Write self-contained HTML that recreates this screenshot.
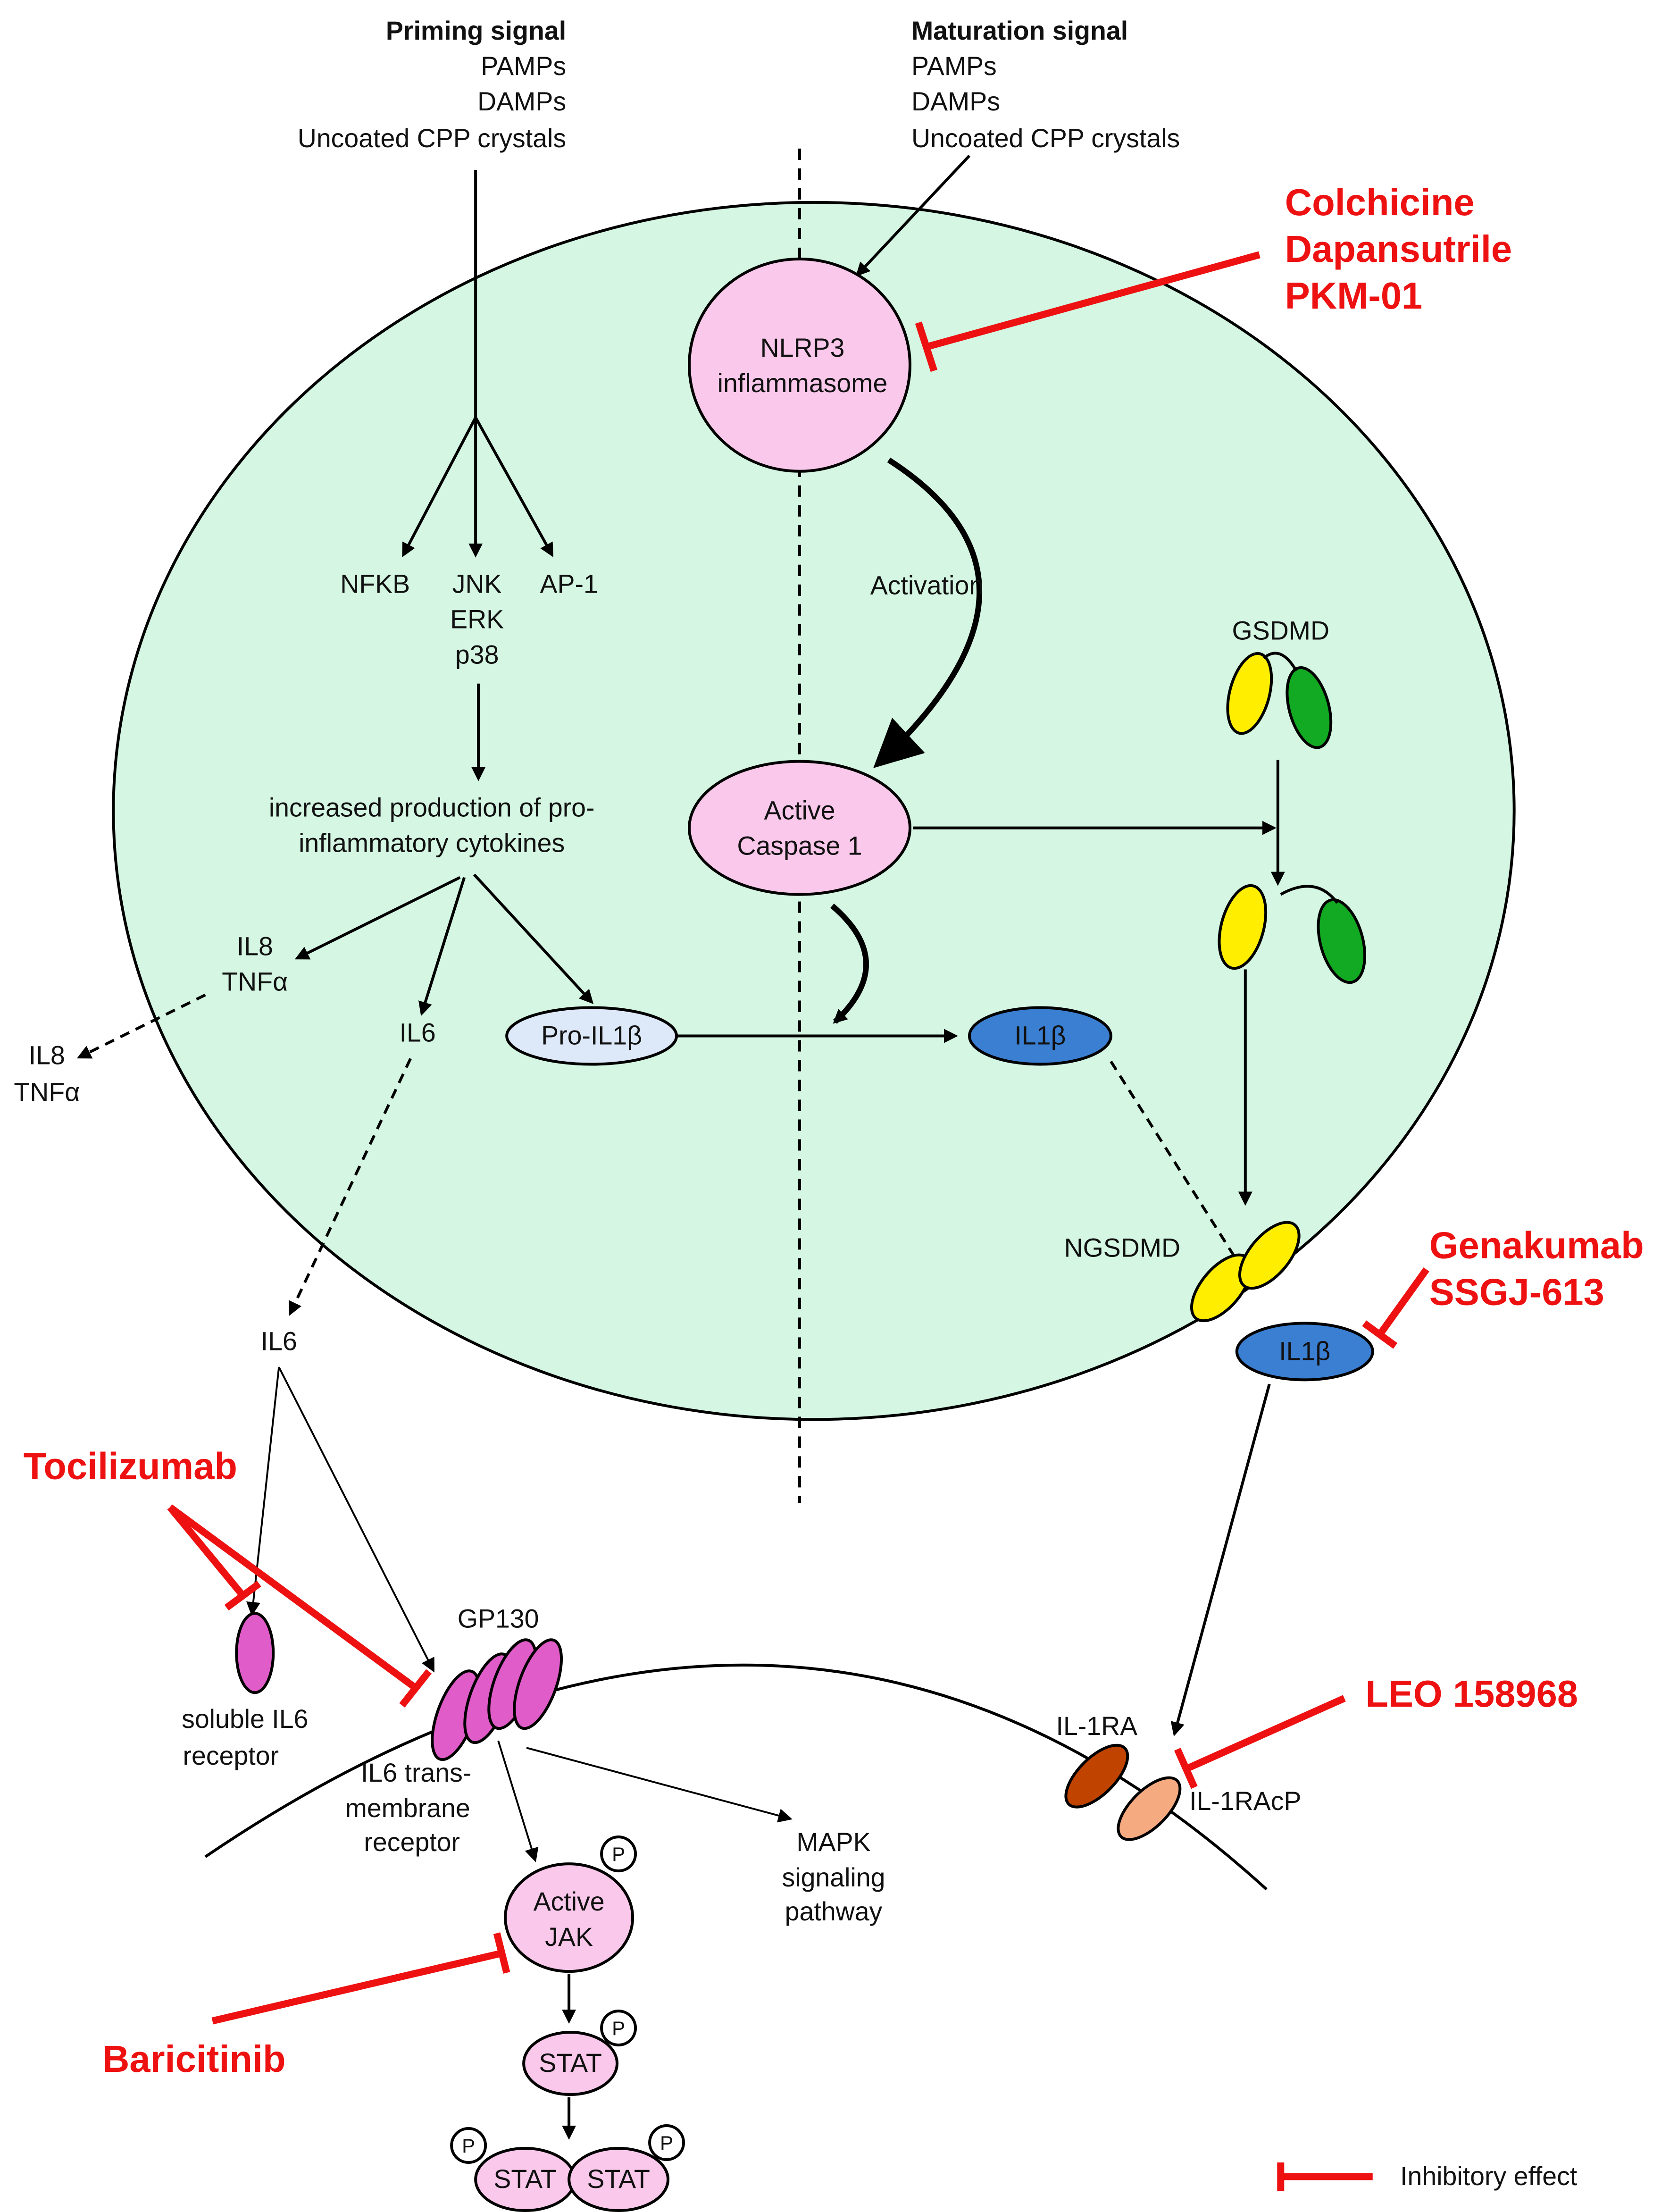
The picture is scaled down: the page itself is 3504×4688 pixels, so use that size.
<!DOCTYPE html>
<html><head><meta charset="utf-8">
<style>
html,body{margin:0;padding:0;background:#fff;}
svg{display:block;}
text{font-family:"Liberation Sans",sans-serif;font-size:18.5px;fill:#111;}
.b{font-weight:bold;}
.r{fill:#ee1111;font-weight:bold;font-size:26.5px;}
</style></head><body>
<svg width="3504" height="4688" viewBox="0 0 1168 1563" xmlns="http://www.w3.org/2000/svg">
<defs>
<marker id="a" markerWidth="10" markerHeight="10" refX="8" refY="5" orient="auto" markerUnits="userSpaceOnUse"><path d="M0,0 L10,5 L0,10 z" fill="#000"/></marker>
<marker id="A" markerWidth="34" markerHeight="34" refX="30" refY="17" orient="auto" markerUnits="userSpaceOnUse"><path d="M0,0 L34,17 L0,34 z" fill="#000"/></marker>
</defs>
<ellipse cx="575" cy="573" rx="495" ry="430" fill="#d4f6e2" stroke="#000" stroke-width="2"/>
<line x1="565" y1="105" x2="565" y2="1062" stroke="#000" stroke-width="2" stroke-dasharray="8,6"/>

<text x="400" y="28" text-anchor="end" class="b">Priming signal</text>
<text x="400" y="53" text-anchor="end">PAMPs</text>
<text x="400" y="78" text-anchor="end">DAMPs</text>
<text x="400" y="104" text-anchor="end">Uncoated CPP crystals</text>
<text x="644" y="28" class="b">Maturation signal</text>
<text x="644" y="53">PAMPs</text>
<text x="644" y="78">DAMPs</text>
<text x="644" y="104">Uncoated CPP crystals</text>

<g stroke="#000" stroke-width="2" fill="none">
<line x1="336" y1="120" x2="336" y2="295"/>
<line x1="336" y1="295" x2="285" y2="392" marker-end="url(#a)"/>
<line x1="336" y1="295" x2="336" y2="392" marker-end="url(#a)"/>
<line x1="336" y1="295" x2="390" y2="392" marker-end="url(#a)"/>
<line x1="338" y1="483" x2="338" y2="550" marker-end="url(#a)"/>
<line x1="685" y1="110" x2="606" y2="194" marker-end="url(#a)"/>
<line x1="325" y1="620" x2="210" y2="677" marker-end="url(#a)"/>
<line x1="328" y1="620" x2="298" y2="716" marker-end="url(#a)"/>
<line x1="335" y1="618" x2="418" y2="708" marker-end="url(#a)"/>
<line x1="478" y1="732" x2="675" y2="732" marker-end="url(#a)"/>
<line x1="645" y1="585" x2="900" y2="585" marker-end="url(#a)"/>
<line x1="903" y1="537" x2="903" y2="624" marker-end="url(#a)"/>
<line x1="880" y1="685" x2="880" y2="850" marker-end="url(#a)"/>
<line x1="145" y1="703" x2="56" y2="747" stroke-dasharray="7,5" marker-end="url(#a)"/>
<line x1="290" y1="748" x2="205" y2="928" stroke-dasharray="7,5" marker-end="url(#a)"/>
<line x1="785" y1="750" x2="880" y2="900" stroke-dasharray="7,5" marker-end="url(#a)"/>
<line x1="897" y1="978" x2="830" y2="1225" marker-end="url(#a)"/>
<path d="M588,640 Q635,680 590,722" marker-end="url(#a)" stroke-width="4"/>
<path d="M628,325 Q760,410 620,540" stroke-width="4" marker-end="url(#A)"/>
<path d="M145,1312 Q560,1030 895,1335"/>
<line x1="197" y1="966" x2="178" y2="1140" stroke-width="1.3" marker-end="url(#a)"/>
<line x1="197" y1="966" x2="306" y2="1180" stroke-width="1.3" marker-end="url(#a)"/>
<line x1="352" y1="1230" x2="378" y2="1314" stroke-width="1.3" marker-end="url(#a)"/>
<line x1="372" y1="1235" x2="558" y2="1285" stroke-width="1.3" marker-end="url(#a)"/>
<line x1="402" y1="1395" x2="402" y2="1428" marker-end="url(#a)"/>
<line x1="402" y1="1482" x2="402" y2="1510" marker-end="url(#a)"/>
</g>

<text x="265" y="419" text-anchor="middle">NFKB</text>
<text x="337" y="419" text-anchor="middle">JNK</text>
<text x="337" y="444" text-anchor="middle">ERK</text>
<text x="337" y="469" text-anchor="middle">p38</text>
<text x="402" y="419" text-anchor="middle">AP-1</text>
<text x="305" y="577" text-anchor="middle">increased production of pro-</text>
<text x="305" y="602" text-anchor="middle">inflammatory cytokines</text>
<text x="180" y="675" text-anchor="middle">IL8</text>
<text x="180" y="700" text-anchor="middle">TNFα</text>
<text x="33" y="752" text-anchor="middle">IL8</text>
<text x="33" y="778" text-anchor="middle">TNFα</text>
<text x="295" y="736" text-anchor="middle">IL6</text>
<text x="197" y="954" text-anchor="middle">IL6</text>
<text x="655" y="420" text-anchor="middle">Activation</text>

<ellipse cx="565" cy="258" rx="78" ry="75" fill="#f9c8ea" stroke="#000" stroke-width="2"/>
<text x="567" y="252" text-anchor="middle">NLRP3</text>
<text x="567" y="277" text-anchor="middle">inflammasome</text>
<ellipse cx="565" cy="585" rx="78" ry="47" fill="#f9c8ea" stroke="#000" stroke-width="2"/>
<text x="565" y="579" text-anchor="middle">Active</text>
<text x="565" y="604" text-anchor="middle">Caspase 1</text>

<ellipse cx="418" cy="732" rx="60" ry="20" fill="#dde8f8" stroke="#000" stroke-width="2"/>
<text x="418" y="738" text-anchor="middle">Pro-IL1β</text>
<ellipse cx="735" cy="732" rx="50" ry="20" fill="#3b7fd2" stroke="#000" stroke-width="2"/>
<text x="735" y="738" text-anchor="middle">IL1β</text>
<ellipse cx="922" cy="955" rx="48" ry="20" fill="#3b7fd2" stroke="#000" stroke-width="2"/>
<text x="922" y="961" text-anchor="middle">IL1β</text>

<text x="905" y="452" text-anchor="middle">GSDMD</text>
<ellipse cx="883" cy="490" rx="14" ry="29" transform="rotate(15 883 490)" fill="#ffee00" stroke="#000" stroke-width="2"/>
<ellipse cx="925" cy="500" rx="14" ry="29" transform="rotate(-15 925 500)" fill="#11aa22" stroke="#000" stroke-width="2"/>
<path d="M893,465 Q905,455 916,474" fill="none" stroke="#000" stroke-width="2"/>
<ellipse cx="878" cy="655" rx="15" ry="30" transform="rotate(15 878 655)" fill="#ffee00" stroke="#000" stroke-width="2"/>
<ellipse cx="948" cy="665" rx="15" ry="30" transform="rotate(-15 948 665)" fill="#11aa22" stroke="#000" stroke-width="2"/>
<path d="M905,632 Q930,618 945,638" fill="none" stroke="#000" stroke-width="2"/>
<text x="793" y="888" text-anchor="middle">NGSDMD</text>
<ellipse cx="863" cy="910" rx="14" ry="28" transform="rotate(40 863 910)" fill="#ffee00" stroke="#000" stroke-width="2"/>
<ellipse cx="897" cy="887" rx="14" ry="28" transform="rotate(40 897 887)" fill="#ffee00" stroke="#000" stroke-width="2"/>

<ellipse cx="180" cy="1168" rx="13" ry="28" fill="#e05cc8" stroke="#000" stroke-width="2"/>
<text x="173" y="1221" text-anchor="middle">soluble IL6</text>
<text x="163" y="1247" text-anchor="middle">receptor</text>
<text x="352" y="1150" text-anchor="middle">GP130</text>
<g fill="#e05cc8" stroke="#000" stroke-width="2">
<ellipse cx="322" cy="1212" rx="13" ry="33" transform="rotate(20 322 1212)"/>
<ellipse cx="345" cy="1200" rx="13" ry="33" transform="rotate(20 345 1200)"/>
<ellipse cx="362" cy="1190" rx="13" ry="33" transform="rotate(20 362 1190)"/>
<ellipse cx="380" cy="1190" rx="13" ry="33" transform="rotate(20 380 1190)"/>
</g>
<text x="294" y="1259" text-anchor="middle">IL6 trans-</text>
<text x="288" y="1284" text-anchor="middle">membrane</text>
<text x="291" y="1308" text-anchor="middle">receptor</text>
<text x="589" y="1308" text-anchor="middle">MAPK</text>
<text x="589" y="1333" text-anchor="middle">signaling</text>
<text x="589" y="1357" text-anchor="middle">pathway</text>

<ellipse cx="402" cy="1355" rx="45" ry="38" fill="#f9c8ea" stroke="#000" stroke-width="2"/>
<text x="402" y="1350" text-anchor="middle">Active</text>
<text x="402" y="1375" text-anchor="middle">JAK</text>
<ellipse cx="403" cy="1458" rx="33" ry="22" fill="#f9c8ea" stroke="#000" stroke-width="2"/>
<text x="403" y="1464" text-anchor="middle">STAT</text>
<ellipse cx="371" cy="1540" rx="35" ry="22" fill="#f9c8ea" stroke="#000" stroke-width="2"/>
<ellipse cx="437" cy="1540" rx="35" ry="22" fill="#f9c8ea" stroke="#000" stroke-width="2"/>
<text x="371" y="1546" text-anchor="middle">STAT</text>
<text x="437" y="1546" text-anchor="middle">STAT</text>
<g fill="#fff" stroke="#000" stroke-width="2">
<circle cx="437" cy="1310" r="12"/><circle cx="437" cy="1433" r="12"/>
<circle cx="331" cy="1516" r="12"/><circle cx="471" cy="1514" r="12"/>
</g>
<text x="437" y="1315" text-anchor="middle" style="font-size:14px">P</text>
<text x="437" y="1438" text-anchor="middle" style="font-size:14px">P</text>
<text x="331" y="1521" text-anchor="middle" style="font-size:14px">P</text>
<text x="471" y="1519" text-anchor="middle" style="font-size:14px">P</text>

<ellipse cx="775" cy="1255" rx="13" ry="28" transform="rotate(45 775 1255)" fill="#c04400" stroke="#000" stroke-width="2"/>
<ellipse cx="812" cy="1278" rx="13" ry="28" transform="rotate(45 812 1278)" fill="#f6aa80" stroke="#000" stroke-width="2"/>
<text x="775" y="1226" text-anchor="middle">IL-1RA</text>
<text x="880" y="1279" text-anchor="middle">IL-1RAcP</text>

<g stroke="#ee1111" stroke-width="5" fill="none">
<line x1="890" y1="180" x2="655" y2="245"/><line x1="649" y1="228" x2="660" y2="262"/>
<line x1="1008" y1="897" x2="975" y2="943"/><line x1="964" y1="935" x2="986" y2="951"/>
<line x1="120" y1="1065" x2="172" y2="1128"/><line x1="160" y1="1136" x2="183" y2="1119"/>
<line x1="120" y1="1065" x2="294" y2="1193"/><line x1="284" y1="1205" x2="303" y2="1181"/>
<line x1="950" y1="1200" x2="838" y2="1250"/><line x1="832" y1="1236" x2="844" y2="1263"/>
<line x1="150" y1="1428" x2="355" y2="1380"/><line x1="351" y1="1366" x2="358" y2="1394"/>
<line x1="905" y1="1538" x2="970" y2="1538"/><line x1="905" y1="1528" x2="905" y2="1548"/>
</g>
<text x="908" y="152" class="r">Colchicine</text>
<text x="908" y="185" class="r">Dapansutrile</text>
<text x="908" y="218" class="r">PKM-01</text>
<text x="1010" y="889" class="r">Genakumab</text>
<text x="1010" y="922" class="r">SSGJ-613</text>
<text x="92" y="1045" text-anchor="middle" class="r">Tocilizumab</text>
<text x="1040" y="1206" text-anchor="middle" class="r">LEO 158968</text>
<text x="137" y="1464" text-anchor="middle" class="r">Baricitinib</text>
<text x="1052" y="1544" text-anchor="middle">Inhibitory effect</text>
</svg>
</body></html>
